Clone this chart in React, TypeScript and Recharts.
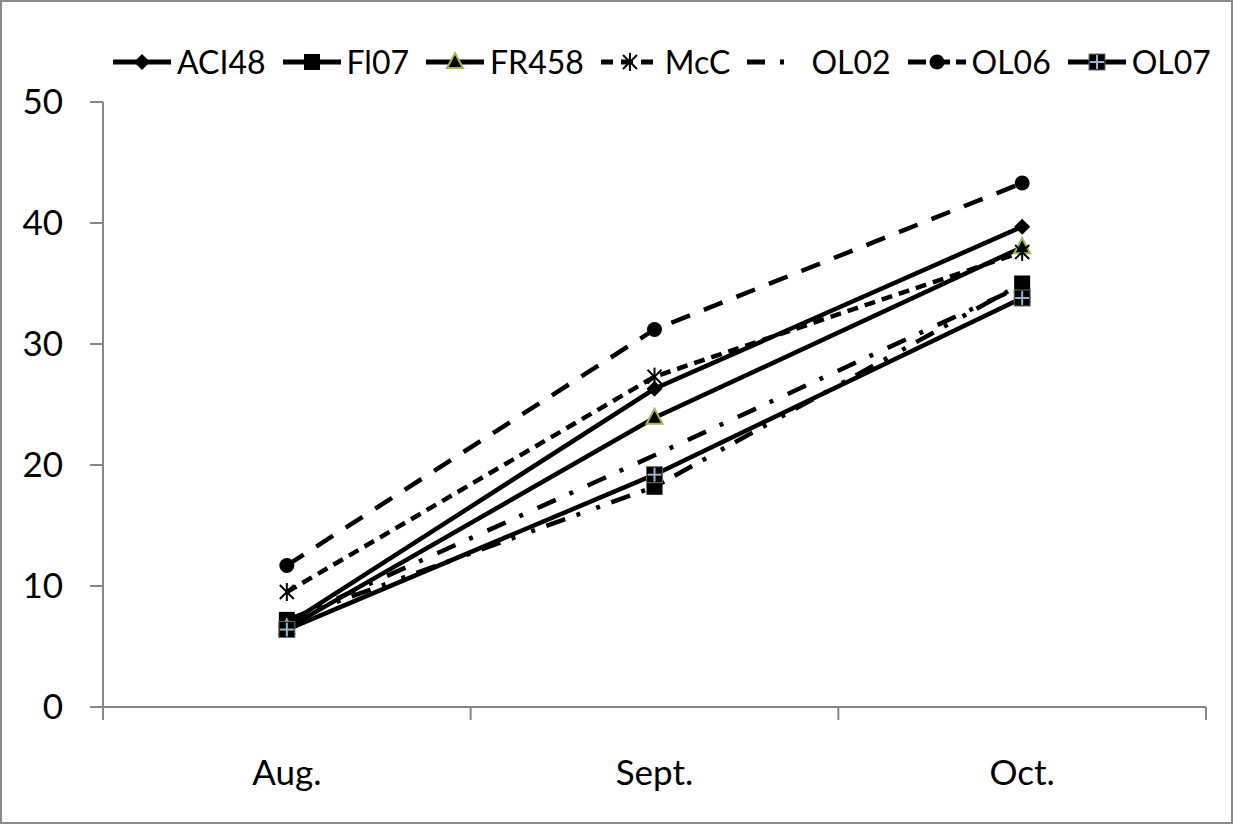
import React from 'react';
import { LineChart, Line, XAxis, YAxis, Legend } from 'recharts';

const months = ['Aug.', 'Sept.', 'Oct.'];
const ACI48 = [6.8, 26.3, 39.7];
const FI07 = [7.2, 18.2, 35.0];
const FR458 = [6.5, 23.9, 38.0];
const McC = [9.5, 27.3, 37.6];
const OL02 = [7.1, 20.8, 34.8];
const OL06 = [11.7, 31.2, 43.3];
const OL07 = [6.4, 19.2, 33.8];
const yTicks = [0, 10, 20, 30, 40, 50];
// category boundaries (integers) and category centres (halves)
const xTicks = [0, 0.5, 1, 1.5, 2, 2.5, 3];

const data = months.map((m, i) => ({
  month: m,
  pos: i + 0.5,
  ACI48: ACI48[i],
  FI07: FI07[i],
  FR458: FR458[i],
  McC: McC[i],
  OL02: OL02[i],
  OL06: OL06[i],
  OL07: OL07[i],
}));

type MarkerType = 'diamond' | 'square' | 'triangle' | 'star' | 'none' | 'circle' | 'squarecross';

const series: { key: string; name: string; dash?: string; legendDash?: string; marker: MarkerType }[] = [
  { key: 'ACI48', name: 'ACI48', marker: 'diamond' },
  { key: 'FI07', name: 'Fl07', dash: '20 12 4 17 4 12', marker: 'square' },
  { key: 'FR458', name: 'FR458', marker: 'triangle' },
  { key: 'McC', name: 'McC', dash: '11 7', legendDash: '12 8', marker: 'star' },
  { key: 'OL02', name: 'OL02', dash: '20 15 4 16', legendDash: '18 15 4 60', marker: 'none' },
  { key: 'OL06', name: 'OL06', dash: '20 15', legendDash: '18 6', marker: 'circle' },
  { key: 'OL07', name: 'OL07', marker: 'squarecross' },
];

const FONT = 'Lato, "Open Sans", sans-serif';
const AXIS = '#878787';

function Marker({ type, cx, cy }: { type: MarkerType; cx: number; cy: number }) {
  if (cx == null || cy == null) return null;
  switch (type) {
    case 'diamond':
      return <polygon points={`${cx},${cy - 8} ${cx + 8},${cy} ${cx},${cy + 8} ${cx - 8},${cy}`} fill="#000" />;
    case 'square':
      return <rect x={cx - 8} y={cy - 8} width={16} height={16} fill="#000" />;
    case 'triangle':
      return (
        <polygon
          points={`${cx},${cy - 9} ${cx + 8},${cy + 6} ${cx - 8},${cy + 6}`}
          fill="#000"
          stroke="#9BBB59"
          strokeWidth={2}
        />
      );
    case 'star':
      return (
        <g stroke="#000" strokeWidth={2}>
          <line x1={cx} y1={cy - 9} x2={cx} y2={cy + 9} />
          <line x1={cx - 7} y1={cy - 7} x2={cx + 7} y2={cy + 7} />
          <line x1={cx - 7} y1={cy + 7} x2={cx + 7} y2={cy - 7} />
        </g>
      );
    case 'circle':
      return <circle cx={cx} cy={cy} r={7.5} fill="#000" />;
    case 'squarecross':
      return (
        <g>
          <rect x={cx - 8} y={cy - 8} width={16} height={16} fill="#000" stroke="#6d6d6d" strokeWidth={1} />
          <line x1={cx - 7} y1={cy} x2={cx + 7} y2={cy} stroke="#95B3D7" strokeWidth={2} />
          <line x1={cx} y1={cy - 7} x2={cx} y2={cy + 7} stroke="#95B3D7" strokeWidth={2} />
        </g>
      );
    default:
      return null;
  }
}

function XTick({ x, y, payload }: any) {
  const v = payload.value as number;
  if (Number.isInteger(v)) {
    return <line x1={x} y1={y} x2={x} y2={y + 13} stroke={AXIS} strokeWidth={2} />;
  }
  return (
    <text x={x} y={y + 78} textAnchor="middle" fill="#000" fontSize={35} fontFamily={FONT}>
      {months[Math.floor(v)]}
    </text>
  );
}

function LegendContent() {
  return (
    <div style={{ display: 'flex', alignItems: 'center', fontFamily: FONT, fontSize: 32, color: '#000', whiteSpace: 'nowrap' }}>
      {series.map((s) => (
        <div key={s.key} style={{ display: 'flex', alignItems: 'center', marginRight: 17 }}>
          <svg width={58} height={24} style={{ display: 'block' }}>
            <line
              x1={0}
              y1={12}
              x2={58}
              y2={12}
              stroke="#000"
              strokeWidth={5}
              strokeDasharray={s.legendDash}
            />
            <Marker type={s.marker} cx={29} cy={12} />
          </svg>
          <span style={{ marginLeft: 6, lineHeight: '40px' }}>{s.name}</span>
        </div>
      ))}
    </div>
  );
}

export default function App() {
  return (
    <div style={{ position: 'absolute', left: 0, top: 0, width: 1233, height: 824, background: '#fff' }}>
      <LineChart
        width={1233}
        height={824}
        data={data}
        margin={{ top: 102, right: 27, bottom: 17, left: 0 }}
      >
        <XAxis
          type="number"
          dataKey="pos"
          domain={[0, 3]}
          ticks={xTicks}
          interval={0}
          tickSize={0}
          tickMargin={0}
          tickLine={false}
          height={100}
          axisLine={{ stroke: AXIS, strokeWidth: 2 }}
          tick={<XTick />}
        />
        <YAxis
          type="number"
          domain={[0, 50]}
          ticks={yTicks}
          width={103}
          tickSize={13}
          tickMargin={27}
          axisLine={{ stroke: AXIS, strokeWidth: 2 }}
          tickLine={{ stroke: AXIS, strokeWidth: 2 }}
          tick={{ fill: '#000', fontSize: 35, fontFamily: FONT }}
        />
        <Legend
          verticalAlign="middle"
          align="center"
          layout="horizontal"
          content={<LegendContent />}
          wrapperStyle={{ left: 113, top: 42, width: 'auto', height: 40 }}
        />
        {series.map((s) => (
          <Line
            key={s.key}
            dataKey={s.key}
            name={s.name}
            stroke="#000"
            strokeWidth={4.5}
            strokeDasharray={s.dash}
            isAnimationActive={false}
            activeDot={false}
            dot={(p: any) => <Marker key={`${s.key}-${p.index}`} type={s.marker} cx={p.cx} cy={p.cy} />}
          />
        ))}
      </LineChart>
      <div
        style={{
          position: 'absolute',
          left: 0,
          top: 0,
          width: 1233,
          height: 824,
          boxSizing: 'border-box',
          border: '2px solid #8a8a8a',
          pointerEvents: 'none',
        }}
      />
    </div>
  );
}
